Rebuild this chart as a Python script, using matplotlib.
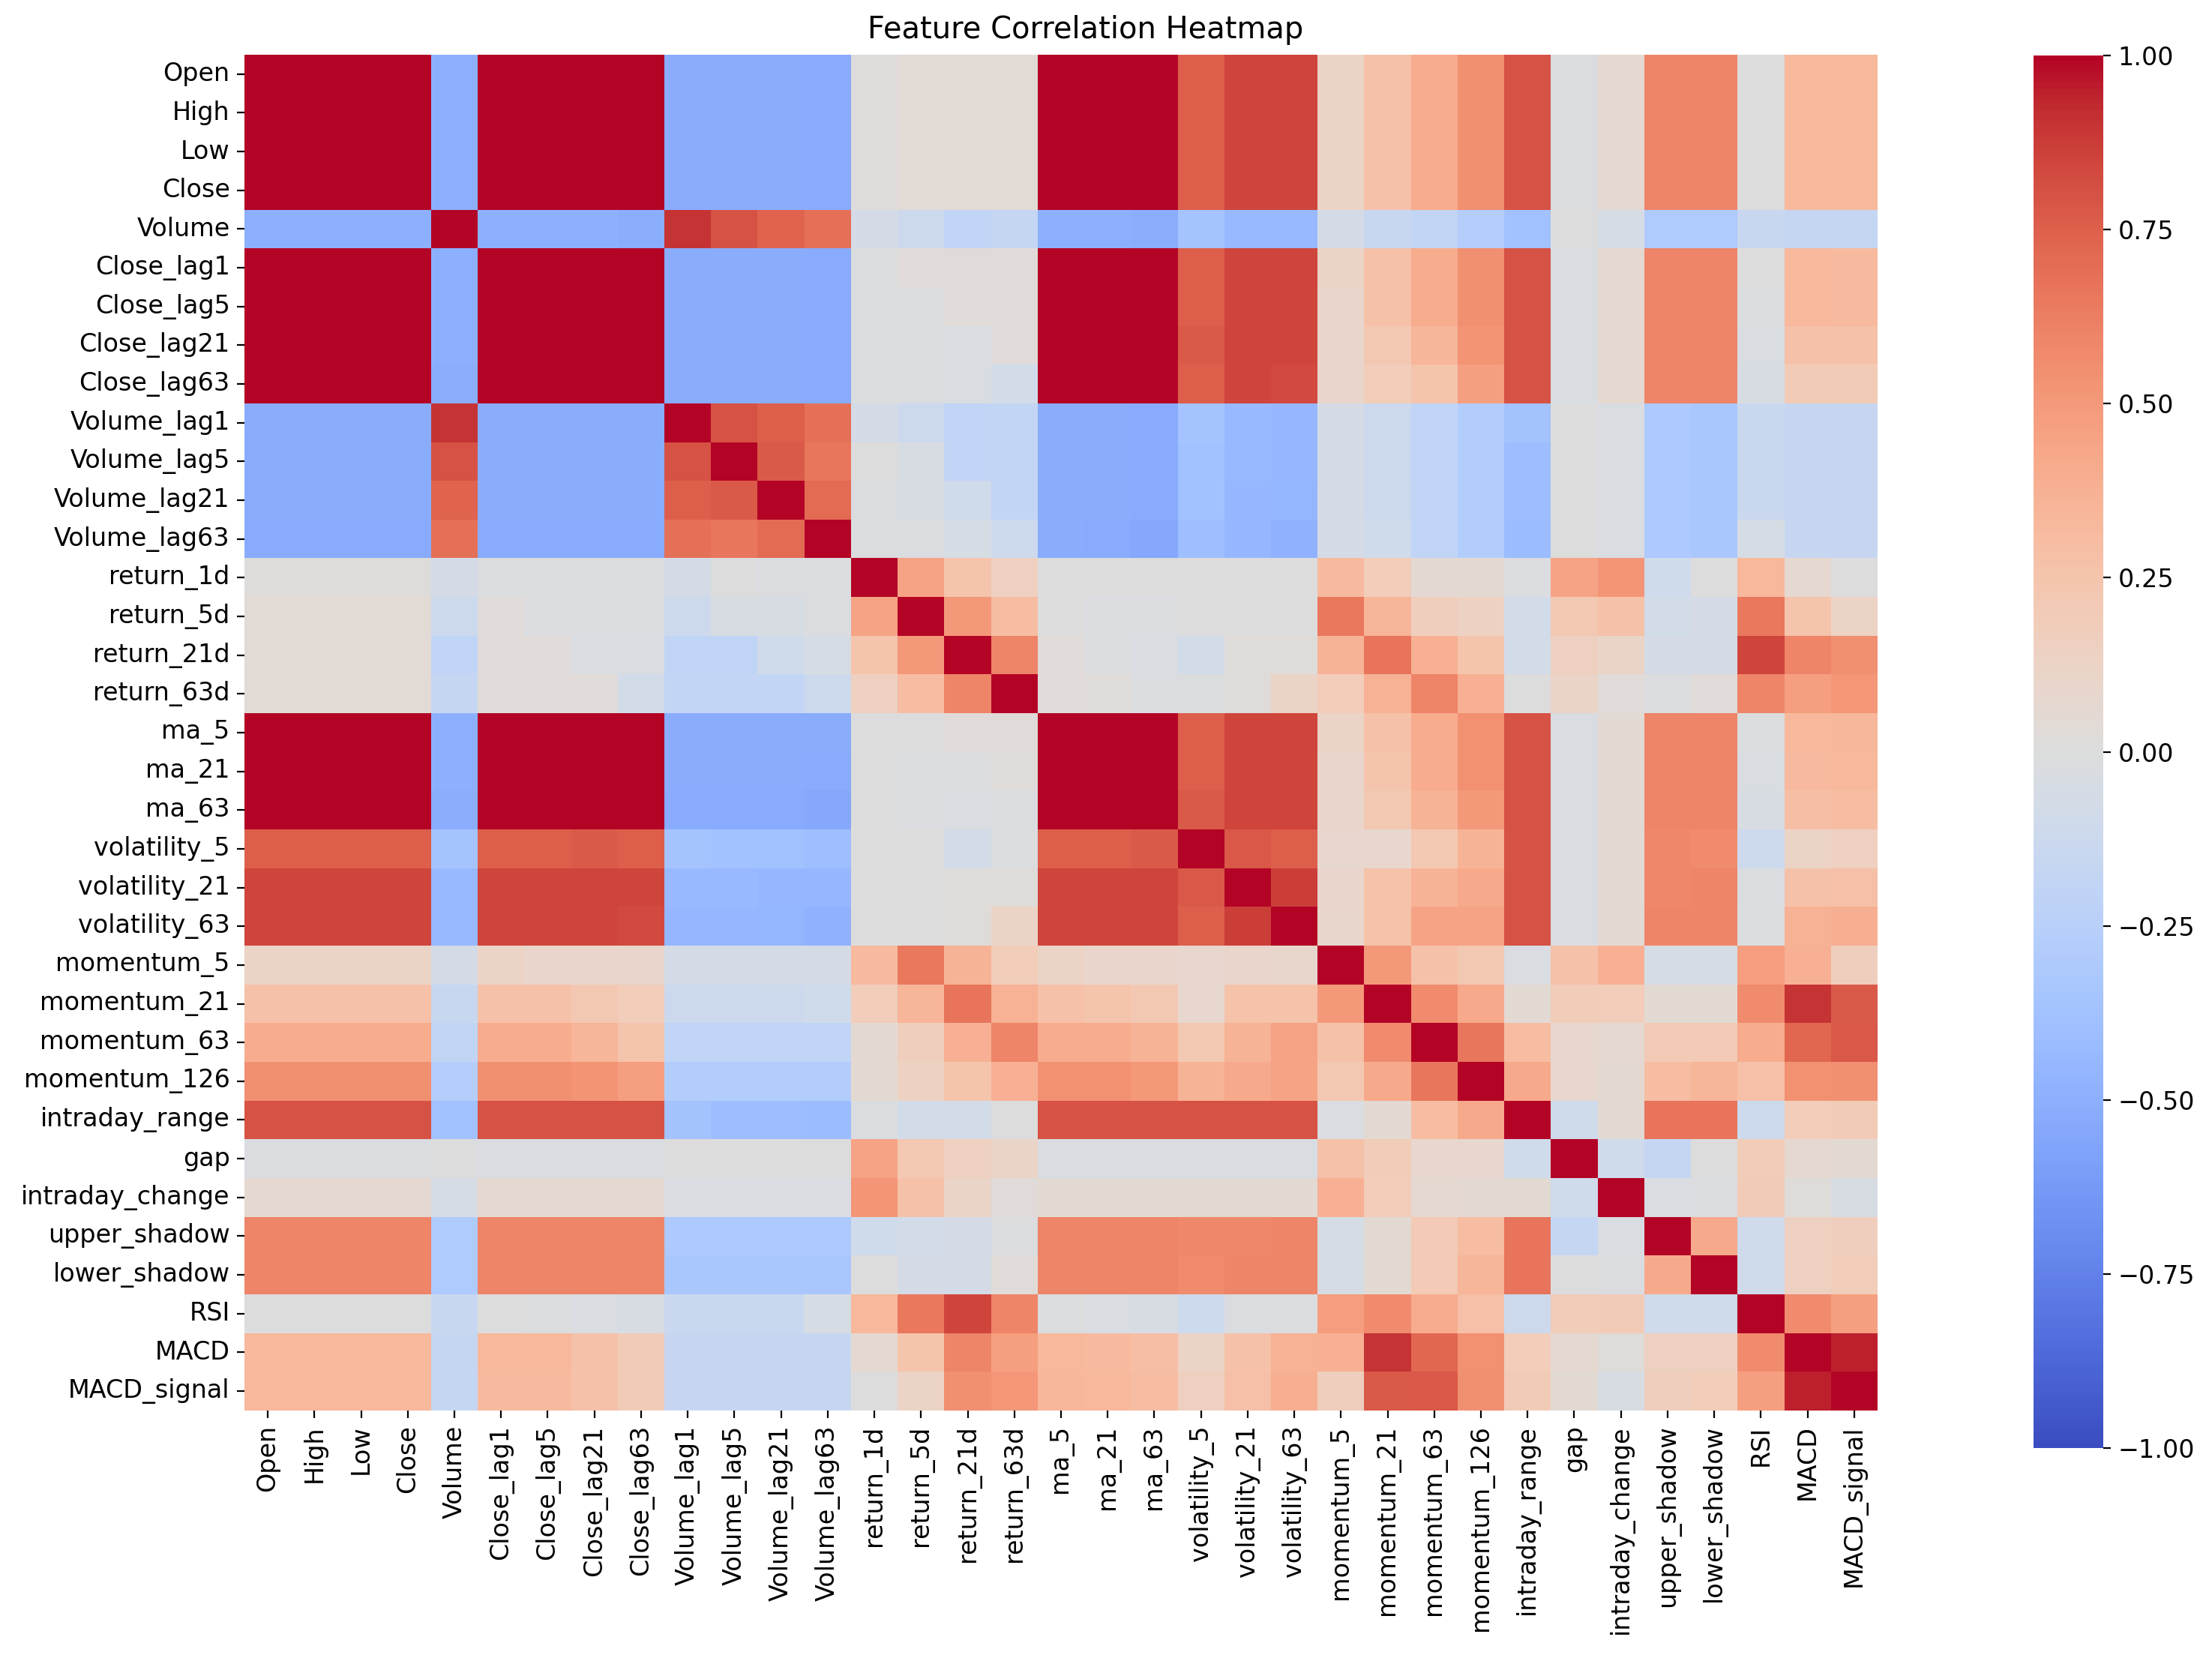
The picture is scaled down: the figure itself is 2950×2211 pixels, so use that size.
import numpy as np
import pandas as pd
import matplotlib
matplotlib.use("Agg")
import matplotlib.pyplot as plt
import seaborn as sns

features = ["Open", "High", "Low", "Close", "Volume",
            "Close_lag1", "Close_lag5", "Close_lag21", "Close_lag63",
            "Volume_lag1", "Volume_lag5", "Volume_lag21", "Volume_lag63",
            "return_1d", "return_5d", "return_21d", "return_63d",
            "ma_5", "ma_21", "ma_63",
            "volatility_5", "volatility_21", "volatility_63",
            "momentum_5", "momentum_21", "momentum_63", "momentum_126",
            "intraday_range", "gap", "intraday_change",
            "upper_shadow", "lower_shadow", "RSI", "MACD", "MACD_signal"]

# lower-triangle correlation values (row i vs columns 0..i-1)
r_High = [0.999]
r_Low = [0.999, 0.999]
r_Close = [0.999, 0.999, 0.999]
r_Volume = [-0.50, -0.50, -0.50, -0.50]
r_Close_lag1 = [0.999, 0.999, 0.999, 0.999, -0.50]
r_Close_lag5 = [0.998, 0.998, 0.998, 0.998, -0.50, 0.998]
r_Close_lag21 = [0.996, 0.996, 0.996, 0.996, -0.50, 0.996, 0.997]
r_Close_lag63 = [0.994, 0.994, 0.994, 0.994, -0.51, 0.994, 0.995, 0.997]
r_Volume_lag1 = [-0.52, -0.52, -0.52, -0.52, 0.90, -0.52, -0.52, -0.52, -0.52]
r_Volume_lag5 = [-0.52, -0.52, -0.52, -0.52, 0.80, -0.52, -0.52, -0.52, -0.52, 0.80]
r_Volume_lag21 = [-0.52, -0.52, -0.52, -0.52, 0.74, -0.52, -0.52, -0.52, -0.52, 0.75, 0.77]
r_Volume_lag63 = [-0.53, -0.53, -0.53, -0.53, 0.68, -0.53, -0.53, -0.53, -0.53, 0.68, 0.66, 0.71]
r_return_1d = [0.01, 0.01, 0.01, 0.01, -0.07, -0.01, -0.01, -0.01, -0.01, -0.07, 0.00, -0.02, -0.01]
r_return_5d = [0.04, 0.04, 0.04, 0.04, -0.12, 0.03, -0.02, -0.02, -0.02, -0.12, -0.04, -0.04, -0.02,
               0.45]
r_return_21d = [0.04, 0.04, 0.04, 0.04, -0.20, 0.03, 0.03, -0.03, -0.03, -0.20, -0.20, -0.10, -0.05,
                0.25, 0.50]
r_return_63d = [0.04, 0.04, 0.04, 0.04, -0.17, 0.03, 0.03, 0.03, -0.08, -0.18, -0.18, -0.18, -0.12,
                0.15, 0.30, 0.60]
r_ma_5 = [0.999, 0.999, 0.999, 0.999, -0.50, 0.999, 0.998, 0.996, 0.994, -0.52, -0.52, -0.52, -0.52,
          0.00, 0.00, 0.03, 0.03]
r_ma_21 = [0.997, 0.997, 0.997, 0.997, -0.50, 0.997, 0.998, 0.998, 0.996, -0.52, -0.52, -0.52, -0.53,
           0.00, -0.02, -0.01, 0.02, 0.998]
r_ma_63 = [0.994, 0.994, 0.994, 0.994, -0.51, 0.994, 0.995, 0.996, 0.998, -0.53, -0.53, -0.53, -0.54,
           0.00, -0.02, -0.03, -0.02, 0.994, 0.997]
r_volatility_5 = [0.75, 0.75, 0.75, 0.75, -0.36, 0.75, 0.75, 0.77, 0.75, -0.36, -0.38, -0.38, -0.40,
                  0.00, 0.00, -0.08, -0.01, 0.75, 0.75, 0.77]
r_volatility_21 = [0.85, 0.85, 0.85, 0.85, -0.43, 0.85, 0.85, 0.85, 0.85, -0.43, -0.43, -0.45, -0.45,
                   0.00, 0.00, 0.02, 0.02, 0.85, 0.85, 0.85, 0.78]
r_volatility_63 = [0.85, 0.85, 0.85, 0.85, -0.43, 0.85, 0.85, 0.85, 0.83, -0.45, -0.45, -0.46, -0.48,
                   0.00, 0.00, 0.02, 0.12, 0.85, 0.85, 0.85, 0.75, 0.87]
r_momentum_5 = [0.12, 0.12, 0.12, 0.12, -0.07, 0.12, 0.10, 0.10, 0.10, -0.07, -0.07, -0.07, -0.07,
                0.32, 0.65, 0.36, 0.18, 0.12, 0.10, 0.10, 0.08, 0.10, 0.09]
r_momentum_21 = [0.27, 0.27, 0.27, 0.27, -0.15, 0.27, 0.27, 0.22, 0.18, -0.13, -0.13, -0.12, -0.10,
                 0.18, 0.35, 0.67, 0.37, 0.27, 0.25, 0.22, 0.08, 0.26, 0.26, 0.50]
r_momentum_63 = [0.40, 0.40, 0.40, 0.40, -0.19, 0.40, 0.40, 0.35, 0.25, -0.20, -0.20, -0.20, -0.20,
                 0.06, 0.17, 0.38, 0.60, 0.40, 0.40, 0.36, 0.22, 0.36, 0.45, 0.27, 0.57]
r_momentum_126 = [0.55, 0.55, 0.55, 0.55, -0.27, 0.55, 0.55, 0.53, 0.47, -0.28, -0.28, -0.28, -0.28,
                  0.05, 0.14, 0.25, 0.38, 0.54, 0.54, 0.50, 0.36, 0.42, 0.45, 0.22, 0.42, 0.66]
r_intraday_range = [0.80, 0.80, 0.80, 0.80, -0.38, 0.80, 0.80, 0.80, 0.80, -0.37, -0.41, -0.41, -0.42,
                    -0.02, -0.08, -0.08, 0.00, 0.80, 0.80, 0.80, 0.80, 0.80, 0.80,
                    -0.03, 0.05, 0.30, 0.42]
r_gap = [-0.02, -0.02, -0.02, -0.02, 0.00, -0.03, -0.03, -0.03, -0.03, 0.00, 0.00, 0.00, 0.00,
         0.45, 0.23, 0.15, 0.11, -0.03, -0.03, -0.03, -0.03, -0.03, -0.03,
         0.27, 0.19, 0.08, 0.08, -0.10]
r_intraday_change = [0.07, 0.07, 0.07, 0.07, -0.05, 0.07, 0.07, 0.07, 0.07, -0.03, -0.03, -0.03, -0.03,
                     0.52, 0.27, 0.11, 0.03, 0.05, 0.05, 0.05, 0.05, 0.05, 0.05,
                     0.38, 0.18, 0.07, 0.06, 0.05, -0.10]
r_upper_shadow = [0.60, 0.60, 0.60, 0.60, -0.30, 0.60, 0.60, 0.60, 0.60, -0.32, -0.32, -0.32, -0.32,
                  -0.10, -0.08, -0.07, -0.01, 0.60, 0.60, 0.60, 0.58, 0.58, 0.60,
                  -0.05, 0.05, 0.21, 0.30, 0.67, -0.17, -0.03]
r_lower_shadow = [0.60, 0.60, 0.60, 0.60, -0.30, 0.60, 0.60, 0.60, 0.60, -0.33, -0.33, -0.33, -0.33,
                  0.00, -0.07, -0.07, 0.03, 0.60, 0.60, 0.60, 0.57, 0.60, 0.60,
                  -0.05, 0.05, 0.21, 0.35, 0.67, 0.00, -0.02, 0.42]
r_RSI = [0.00, 0.00, 0.00, 0.00, -0.15, 0.00, -0.01, -0.03, -0.04, -0.14, -0.14, -0.14, -0.05,
         0.33, 0.65, 0.85, 0.60, -0.01, -0.03, -0.04, -0.11, -0.02, -0.01,
         0.48, 0.57, 0.40, 0.28, -0.12, 0.19, 0.20, -0.10, -0.10]
r_MACD = [0.33, 0.33, 0.33, 0.33, -0.17, 0.33, 0.33, 0.27, 0.20, -0.16, -0.16, -0.16, -0.16,
          0.07, 0.25, 0.60, 0.47, 0.33, 0.32, 0.29, 0.12, 0.27, 0.37,
          0.38, 0.90, 0.72, 0.54, 0.18, 0.07, 0.02, 0.15, 0.15, 0.57]
r_MACD_signal = [0.33, 0.33, 0.33, 0.33, -0.17, 0.32, 0.32, 0.27, 0.20, -0.16, -0.16, -0.16, -0.16,
                 0.00, 0.12, 0.55, 0.51, 0.34, 0.33, 0.30, 0.16, 0.28, 0.39,
                 0.17, 0.77, 0.78, 0.55, 0.20, 0.05, -0.04, 0.17, 0.18, 0.47, 0.95]

lower_rows = [r_High, r_Low, r_Close, r_Volume, r_Close_lag1, r_Close_lag5, r_Close_lag21,
              r_Close_lag63, r_Volume_lag1, r_Volume_lag5, r_Volume_lag21, r_Volume_lag63,
              r_return_1d, r_return_5d, r_return_21d, r_return_63d, r_ma_5, r_ma_21, r_ma_63,
              r_volatility_5, r_volatility_21, r_volatility_63, r_momentum_5, r_momentum_21,
              r_momentum_63, r_momentum_126, r_intraday_range, r_gap, r_intraday_change,
              r_upper_shadow, r_lower_shadow, r_RSI, r_MACD, r_MACD_signal]

n = len(features)
corr = np.eye(n)
for i, row in enumerate(lower_rows, start=1):
    corr[i, :i] = row
    corr[:i, i] = row
df = pd.DataFrame(corr, index=features, columns=features)

fig = plt.figure(figsize=(14.75, 11.055), dpi=200)
ax = fig.add_axes([0.1105, 0.1493, 0.7383, 0.8177])
cax = fig.add_axes([0.9193, 0.1266, 0.0315, 0.8399])

sns.heatmap(df, ax=ax, cbar_ax=cax, cmap="coolwarm", vmin=-1, vmax=1,
            xticklabels=features, yticklabels=features)

ax.set_title("Feature Correlation Heatmap", fontsize=14.4, pad=8, x=0.515)
ax.tick_params(axis="both", labelsize=12)
plt.setp(ax.get_xticklabels(), rotation=90)
plt.setp(ax.get_yticklabels(), rotation=0)

cbar_ticks = [-1.0, -0.75, -0.5, -0.25, 0.0, 0.25, 0.5, 0.75, 1.0]
cax.set_yticks(cbar_ticks)
cax.set_yticklabels([f"{v:.2f}".replace("-", "\u2212") for v in cbar_ticks])
cax.tick_params(labelsize=12)

fig.savefig("out.png", dpi=200)
